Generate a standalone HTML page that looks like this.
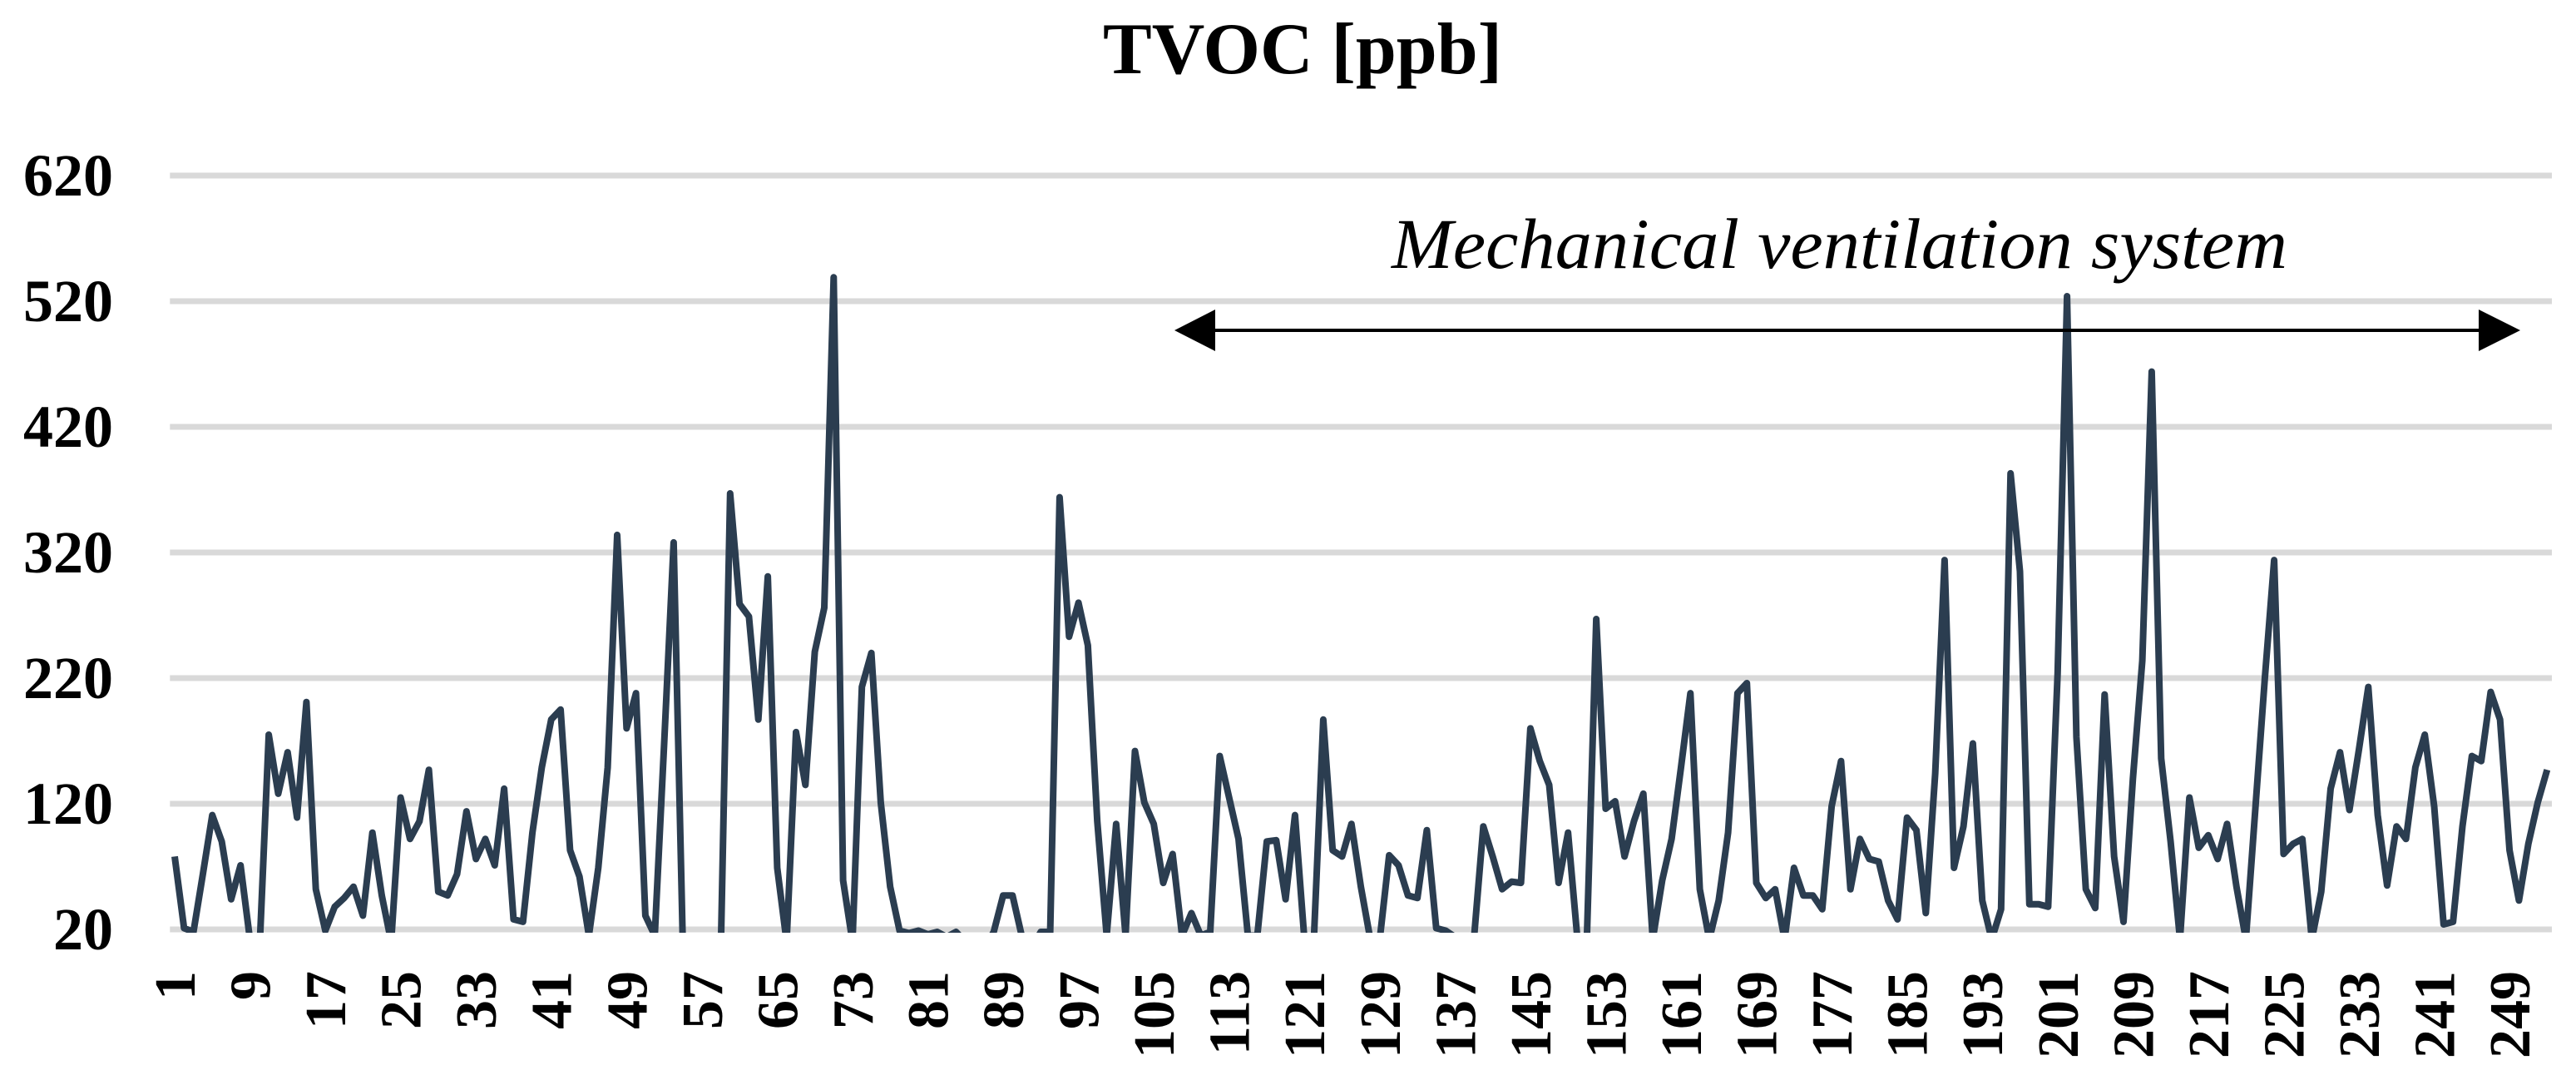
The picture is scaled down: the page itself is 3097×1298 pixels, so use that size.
<!DOCTYPE html>
<html><head><meta charset="utf-8"><style>
html,body{margin:0;padding:0;background:#fff;}
svg{display:block;}
text{font-family:"Liberation Serif",serif;fill:#000;}
</style></head><body>
<svg id="chart" width="3097" height="1298" viewBox="0 0 3097 1298" xmlns="http://www.w3.org/2000/svg">
<defs><clipPath id="plotclip"><rect x="150" y="150" width="2947" height="971"/></clipPath></defs>
<text x="1566" y="88" font-size="88" font-weight="bold" text-anchor="middle">TVOC [ppb]</text>
<g id="grid"></g>
<g id="yticks"></g>
<g id="xticks"></g>
<g clip-path="url(#plotclip)"><path id="series" fill="none" stroke="#2b3d50" stroke-width="8" stroke-linejoin="round"/></g>
<text x="1673" y="322" font-size="86" font-style="italic" textLength="1077" lengthAdjust="spacingAndGlyphs">Mechanical ventilation system</text>
<g>
<line x1="1455" y1="397" x2="2985" y2="397" stroke="#000" stroke-width="4"/>
<polygon points="1412,397 1461,372 1461,422" fill="#000"/>
<polygon points="3030,397 2980,372 2980,422" fill="#000"/>
</g>
</svg>
<script>
const yTicks = [20, 120, 220, 320, 420, 520, 620];
const values = [
78,21,18,64,111,90,44,71,12,0,175,128,161,109,201,52,19,38,45,54,31,97,47,10,125,92,106,147,50,47,64,114,76,92,71,132,28,26,97,149,187,195,83,62,15,69,149,334,180,208,31,15,168,328,0,0,0,0,0,367,279,269,187,301,69,
10,177,135,241,276,539,59,10,213,240,121,54,19,17,19,16,18,14,18,10,5,5,18,47,47,14,5,18,18,364,253,280,246,106,15,104,15,162,121,104,57,80,15,33,15,18,158,125,92,15,15,90,91,44,111,12,12,187,83,78,104,54,12,12,
79,71,47,45,99,21,19,14,5,12,102,78,52,58,57,180,154,135,57,97,12,12,267,116,122,78,106,128,12,59,92,149,208,52,12,43,97,208,216,57,45,52,12,69,47,47,36,118,154,52,92,76,74,43,28,109,99,33,144,314,69,102,168,43,12,
36,383,305,40,40,38,224,524,173,52,37,207,78,26,140,234,464,156,90,12,125,85,95,76,104,54,12,116,219,314,80,88,92,12,50,132,161,115,163,213,111,55,102,92,149,175,118,24,26,102,158,154,209,187,83,43,88,121,147
];
const categories = values.map((v, i) => i + 1);

const NS = "http://www.w3.org/2000/svg";
const plotLeft = 204.3, plotRight = 3068, yTop = 211, yBottom = 1117;
const yMin = 20, yMax = 620;
const step = (plotRight - plotLeft) / categories.length;
function xScale(i) { return plotLeft + step * (i + 0.5); }
function yScale(v) { return yBottom - (v - yMin) / (yMax - yMin) * (yBottom - yTop); }

const grid = document.getElementById('grid');
const yt = document.getElementById('yticks');
yTicks.forEach(t => {
  const y = yScale(t);
  const l = document.createElementNS(NS, 'line');
  
  
  l.setAttribute('x1', plotLeft); l.setAttribute('x2', plotRight);
  l.setAttribute('y1', y); l.setAttribute('y2', y);
  l.setAttribute('stroke', '#d9d9d9'); l.setAttribute('stroke-width', '7');
  grid.appendChild(l);
  const tx = document.createElementNS(NS, 'text');
  
  
  tx.setAttribute('x', 136); tx.setAttribute('y', y + 24);
  tx.setAttribute('text-anchor', 'end'); tx.setAttribute('font-size', '72'); tx.setAttribute('font-weight', 'bold');
  tx.textContent = t;
  yt.appendChild(tx);
});

const xt = document.getElementById('xticks');
categories.forEach((c, i) => {
  if ((c - 1) % 8 !== 0) return;
  const x = xScale(i);
  const tx = document.createElementNS(NS, 'text');
  
  
  tx.setAttribute('transform', 'translate(' + (x + 24) + ',1167) rotate(-90)');
  tx.setAttribute('text-anchor', 'end'); tx.setAttribute('font-size', '70'); tx.setAttribute('font-weight', 'bold');
  tx.textContent = c;
  xt.appendChild(tx);
});

let d = '';
values.forEach((v, i) => { d += (i ? 'L' : 'M') + xScale(i).toFixed(1) + ',' + yScale(v).toFixed(1); });
document.getElementById('series').setAttribute('d', d);
</script>
</body></html>
